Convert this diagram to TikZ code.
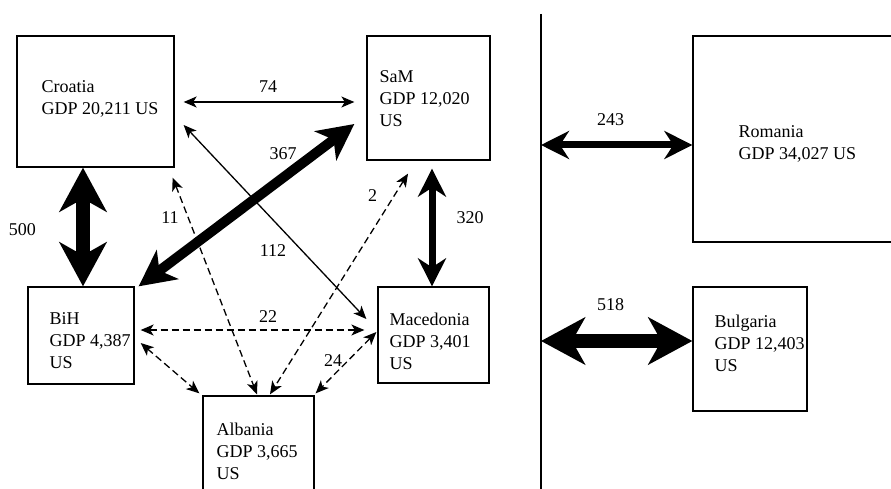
\documentclass[tikz,border=0pt]{standalone}
\usepackage{fontspec}
\setmainfont{Liberation Serif}
\usetikzlibrary{positioning,arrows.meta}

\begin{document}
\begin{tikzpicture}[x=1pt, y=-1pt,
  every node/.style={font=\fontsize{18}{22}\selectfont, inner sep=0pt},
  country/.style={draw, line width=1.3pt},
  gdp/.style={align=left, anchor=north west},
  thin flow/.style={<->, >={Stealth[length=13pt,width=11pt,inset=3.5pt]}, line width=1.3pt},
  dash flow/.style={thin flow, dash pattern=on 7pt off 4pt},
  mid flow/.style={<->, >={Stealth[length=28pt,width=28pt,inset=9pt]}, line width=7pt},
  main flow/.style={<->, >={Stealth[length=36pt,width=36pt,inset=10pt]}, line width=10pt},
  heavy flow/.style={<->, >={Stealth[length=44pt,width=47pt,inset=13pt]}, line width=14pt}]
  \useasboundingbox (0,0) rectangle (891,489);

  % former Yugoslavia and Albania
  \node[country, minimum width=157pt, minimum height=131pt] (cro) at (95.5,101.5) {};
  \node[gdp] (cro-t) at ([shift={(25,45)}]cro.north west) {Croatia\\GDP 20,211 US};
  \node[country, minimum width=123pt, minimum height=124pt] (sam) at (428.5,98) {};
  \node[gdp] (sam-t) at ([shift={(13,35)}]sam.north west) {SaM\\GDP 12,020\\US};
  \node[country, minimum width=106pt, minimum height=97pt] (bih) at (81,335.5) {};
  \node[gdp] (bih-t) at ([shift={(22,26)}]bih.north west) {BiH\\GDP 4,387\\US};
  \node[country, minimum width=111pt, minimum height=96pt] (mac) at (433.5,335) {};
  \node[gdp] (mac-t) at ([shift={(12,26)}]mac.north west) {Macedonia\\GDP 3,401\\US};
  \node[country, minimum width=111pt, minimum height=130pt] (alb) at (258.5,461) {};
  \node[gdp] (alb-t) at ([shift={(14,27)}]alb.north west) {Albania\\GDP 3,665\\US};

  % divider
  \coordinate (divtop) at (541,14);
  \coordinate (divbot) at (541,495);
  \draw[line width=1.3pt] (divtop) -- (divbot);

  % Romania and Bulgaria
  \node[country, minimum width=207pt, minimum height=206pt] (rom) at (796.5,139) {};
  \node[gdp] (rom-t) at ([shift={(46,90)}]rom.north west) {Romania\\GDP 34,027 US};
  \node[country, minimum width=114pt, minimum height=124pt] (bul) at (750,349) {};
  \node[gdp] (bul-t) at ([shift={(22,28)}]bul.north west) {Bulgaria\\GDP 12,403\\US};

  % trade links
  \draw[thin flow] ([shift={(9,0.5)}]cro.east) -- ([shift={(-12,4)}]sam.west);
  \draw[main flow] ([shift={(4,0)}]bih.north east) -- ([shift={(-12,26)}]sam.west);
  \draw[thin flow] ([shift={(9,23.5)}]cro.east) -- ([shift={(-11,-16)}]mac.west);
  \draw[heavy flow] ([shift={(-12.5,0)}]cro.south) -- ([shift={(2,0)}]bih.north);
  \draw[mid flow] ([shift={(3.5,8)}]sam.south) -- ([shift={(-1.5,0)}]mac.north);
  \draw[dash flow] ([shift={(-2,10)}]cro.south east) -- ([shift={(-1.5,-1)}]alb.north);
  \draw[dash flow] ([shift={(-20.5,13)}]sam.south) -- ([shift={(11.5,-1)}]alb.north);
  \draw[dash flow] ([shift={(6,-5.5)}]bih.east) -- ([shift={(-13,-5)}]mac.west);
  \draw[dash flow] ([shift={(6,7.5)}]bih.east) -- ([shift={(-3,-2)}]alb.north west);
  \draw[dash flow] ([shift={(-1,-3)}]mac.west) -- ([shift={(1,-2)}]alb.north east);
  \draw[mid flow] ([shift={(0,131)}]divtop) -- ([shift={(0,6)}]rom.west);
  \draw[heavy flow] ([shift={(0,327)}]divtop) -- ([shift={(0,-8)}]bul.west);

  % volumes
  \node (l74) at (268,87) {74};
  \node (l367) at (283,154) {367};
  \node (l112) at (273,251) {112};
  \node (l500) at (22.5,230) {500};
  \node (l320) at (470,218) {320};
  \node (l11) at (170,218) {11};
  \node (l2) at (372.5,196) {2};
  \node (l22) at (268,317) {22};
  \node (l24) at (333,361) {24};
  \node (l243) at (610.5,120) {243};
  \node (l518) at (610.5,305) {518};
\end{tikzpicture}
\end{document}
